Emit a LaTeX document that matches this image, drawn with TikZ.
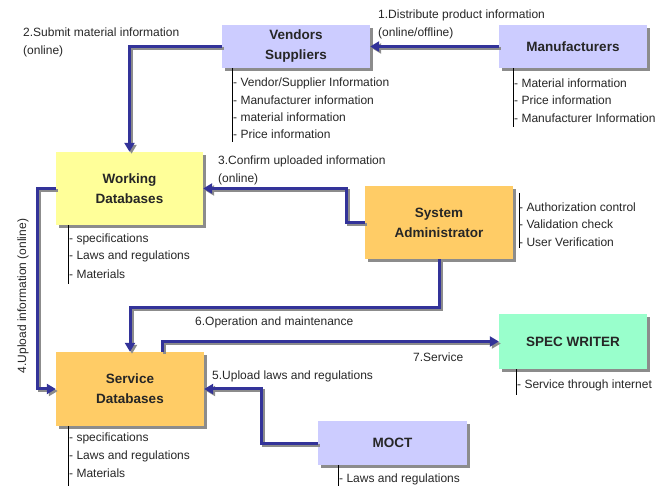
\documentclass[tikz,border=0pt]{standalone}
\usepackage{fontspec}
\setmainfont{Liberation Sans}
\usetikzlibrary{arrows.meta,shadows}

\definecolor{flowblue}{HTML}{333399}
\definecolor{lav}{HTML}{CCCCFF}
\definecolor{lemon}{HTML}{FFFF99}
\definecolor{amber}{HTML}{FFCC66}
\definecolor{mint}{HTML}{99FFCC}
\definecolor{shade}{HTML}{8C8C8C}
\definecolor{ink}{HTML}{262626}

\tikzset{
  box/.style={fill=#1, inner sep=0pt, align=center, text=ink,
    font=\fontsize{13.5}{20}\selectfont\bfseries,
    drop shadow={shadow xshift=3pt, shadow yshift=-3pt, fill=shade, opacity=1}},
  flow/.style={draw=flowblue, line width=3pt, -{Triangle[length=9pt,width=10pt]}},
  flowshade/.style={draw=shade, line width=3pt, -{Triangle[length=9pt,width=10pt]},
    transform canvas={shift={(2pt,-2pt)}}},
  lbl/.style={font=\fontsize{12}{18}\selectfont, inner sep=0pt, align=left, text=ink},
  item/.style={font=\fontsize{12}{17}\selectfont, inner sep=0pt, anchor=west, text=ink},
  rule/.style={draw=black, line width=1.2pt},
}

% a flow arrow with its grey offset shadow
\newcommand\flowpath[1]{\draw[flowshade] #1; \draw[flow] #1;}

\begin{document}
\begin{tikzpicture}[x=1pt, y=-1pt]
\useasboundingbox (0,0) rectangle (667,486);

% boxes
\node[box=lav, minimum width=148pt, minimum height=43pt] (vend) at (296,46.5) {Vendors\\Suppliers};
\node[box=lav, minimum width=148pt, minimum height=43pt] (manu) at (573,46.5) {Manufacturers};
\node[box=lemon, minimum width=147pt, minimum height=73pt] (work) at (129.5,188.5) {Working\\Databases};
\node[box=amber, minimum width=148pt, minimum height=73pt] (sysadm) at (439,222.5) {System\\Administrator};
\node[box=amber, minimum width=148pt, minimum height=74pt] (serv) at (130,389) {Service\\Databases};
\node[box=mint, minimum width=148pt, minimum height=55pt] (spec) at (573,341.5) {SPEC WRITER};
\node[box=lav, minimum width=149pt, minimum height=44pt] (moct) at (392.5,443) {MOCT};

% flows
\flowpath{(manu.west) -- (vend.east)}
\flowpath{(vend.west) -| (work.north)}
\flowpath{(sysadm.west) -- ++(-18,0) |- (work.east)}
\flowpath{(work.west) -- ++(-18,0) |- (serv.west)}
\flowpath{(moct.west) -- ++(-56,0) |- (serv.east)}
\flowpath{(sysadm.south) -- ++(0,48) -| (serv.north)}
\flowpath{([xshift=32pt]serv.north) |- (spec.west)}

% flow labels
\node[lbl, anchor=west] (l1) at (378,24) {1.Distribute product information\\(online/offline)};
\node[lbl, anchor=west] (l2) at (23,42) {2.Submit material information\\(online)};
\node[lbl, anchor=west] (l3) at (218,170.5) {3.Confirm uploaded information\\(online)};
\node[lbl, rotate=90] (l4) at (23,296) {4.Upload information (online)};
\node[lbl, anchor=west] (l5) at (212,376) {5.Upload laws and regulations};
\node[lbl, anchor=west] (l6) at (195,322) {6.Operation and maintenance};
\node[lbl, anchor=west] (l7) at (413,357) {7.Service};

% attribute lists
\draw[rule] ([xshift=11pt]vend.south west) -- ++(0,74);
\node[item] (v1) at (233,83) {- Vendor/Supplier Information};
\node[item] (v2) at (233,100) {- Manufacturer information};
\node[item] (v3) at (233,117) {- material information};
\node[item] (v4) at (233,134) {- Price information};

\draw[rule] ([xshift=15pt]manu.south west) -- ++(0,59);
\node[item] (m1) at (514,83) {- Material information};
\node[item] (m2) at (514,100) {- Price information};
\node[item] (m3) at (514,118) {- Manufacturer Information};

\draw[rule] ([xshift=13pt]work.south west) -- ++(0,59);
\node[item] (w1) at (69,239) {- specifications};
\node[item] (w2) at (69,256) {- Laws and regulations};
\node[item] (w3) at (69,274) {- Materials};

\draw[rule] ([xshift=6pt,yshift=-7pt]sysadm.north east) -- ++(0,55);
\node[item] (a1) at (519,207) {- Authorization control};
\node[item] (a2) at (519,224) {- Validation check};
\node[item] (a3) at (519,242) {- User Verification};

\draw[rule] ([xshift=13pt]serv.south west) -- ++(0,60);
\node[item] (s1) at (69,438) {- specifications};
\node[item] (s2) at (69,456) {- Laws and regulations};
\node[item] (s3) at (69,473) {- Materials};

\draw[rule] ([xshift=18pt]spec.south west) -- ++(0,26);
\node[item] (p1) at (517,385) {- Service through internet};

\draw[rule] ([xshift=21pt]moct.south west) -- ++(0,21);
\node[item] (o1) at (339,479) {- Laws and regulations};
\end{tikzpicture}
\end{document}
